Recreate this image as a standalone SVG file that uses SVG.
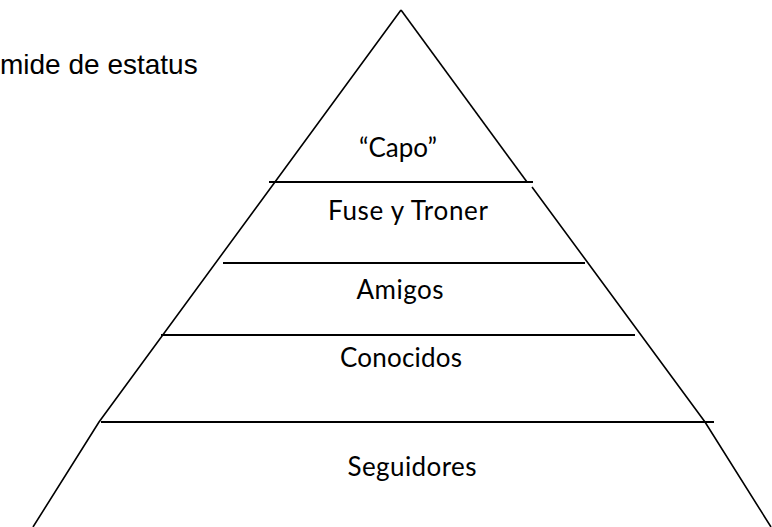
<svg xmlns="http://www.w3.org/2000/svg" width="772" height="527" viewBox="0 0 772 527">
<style>
.side{stroke:#000;stroke-width:1.6;fill:none}
.div{stroke:#000;stroke-width:2;fill:none}
.lbl{font-family:Lato,"Open Sans","Liberation Sans",sans-serif;font-size:26px;fill:#000;text-anchor:middle}
.title{font-family:"Liberation Sans",Arial,sans-serif;font-size:28px;fill:#000}
</style>
<rect width="772" height="527" fill="#fff"/>
<text class="title" x="0" y="74">mide de estatus</text>
<g id="connectors">
<polyline class="side" points="401,10 99,422 33,527"/>
<polyline class="side" points="401,10 527,182"/>
<polyline class="side" points="532,187 588,263 705,422 771,527"/>
<line class="div" x1="269" y1="182" x2="533" y2="182"/>
<line class="div" x1="223" y1="263" x2="585" y2="263"/>
<line class="div" x1="161" y1="335" x2="635" y2="335"/>
<line class="div" x1="101" y1="422" x2="714" y2="422"/>
</g>
<g id="capo"><text class="lbl" x="398" y="157">“Capo”</text></g>
<g id="fuse"><text class="lbl" x="408" y="220" textLength="160">Fuse y Troner</text></g>
<g id="amigos"><text class="lbl" x="400" y="299" textLength="87">Amigos</text></g>
<g id="conocidos"><text class="lbl" x="401" y="367" textLength="122">Conocidos</text></g>
<g id="seguidores"><text class="lbl" x="412" y="476" textLength="129">Seguidores</text></g>
</svg>
